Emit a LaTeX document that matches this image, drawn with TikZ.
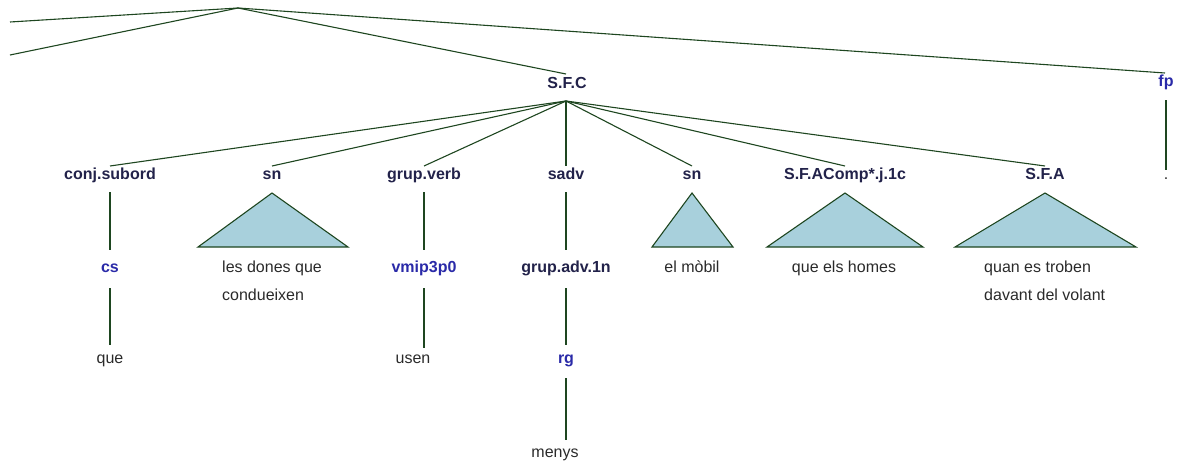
\documentclass[tikz,border=0pt]{standalone}
\usepackage{fontspec}
\setmainfont{Liberation Sans}
\definecolor{lab}{HTML}{22224A}
\definecolor{pos}{HTML}{2A2AA8}
\definecolor{leaf}{HTML}{2A2A2A}
\definecolor{edge}{HTML}{1E4620}
\definecolor{tri}{HTML}{A8D0DC}
\begin{document}
\begin{tikzpicture}[x=1pt,y=-1pt,
  every node/.style={inner sep=0pt,anchor=base},
  cat/.style={font=\fontsize{16}{18}\selectfont\bfseries,text=lab},
  postag/.style={font=\fontsize{16}{18}\selectfont\bfseries,text=pos},
  word/.style={font=\fontsize{16}{28}\selectfont,text=leaf},
  edgeline/.style={draw=edge,line width=1.1pt},
  triangle/.style={draw=edge,fill=tri,line width=1.1pt,line join=miter}]
\useasboundingbox (0,0) rectangle (1179,463);
% top level
\coordinate (root) at (238,8);
\coordinate (offA) at (10,22);
\coordinate (offB) at (10,55);
\node[cat] (sfc) at (567,88) {S.F.C};
\node[postag] (fp) at (1166,86) {fp};
\coordinate (sfcT) at (566,74);
\coordinate (fpT) at (1165,73);
\coordinate (sfcB) at (566,101);
\draw[edgeline] (root) -- (offA);
\draw[edgeline] (root) -- (offB);
\draw[edgeline] (root) -- (sfcT);
\draw[edgeline] (root) -- (fpT);
% children of S.F.C
\node[cat] (conj) at (110,179) {conj.subord};
\node[cat] (sn1) at (272,179) {sn};
\node[cat] (gv) at (424,179) {grup.verb};
\node[cat] (sadv) at (566,179) {sadv};
\node[cat] (sn2) at (692,179) {sn};
\node[cat] (sfacomp) at (845,179) {S.F.AComp*.j.1c};
\node[cat] (sfa) at (1045,179) {S.F.A};
\coordinate (conjT) at (110,166);
\coordinate (sn1T) at (272,166);
\coordinate (gvT) at (424,166);
\coordinate (sadvT) at (566,166);
\coordinate (sn2T) at (692,166);
\coordinate (sfacompT) at (845,166);
\coordinate (sfaT) at (1045,166);
\foreach \c in {conjT,sn1T,gvT,sadvT,sn2T,sfacompT,sfaT}
  \draw[edgeline] (sfcB) -- (\c);
% fp child
\node[word] (dot) at (1166,179) {.};
\coordinate (fpB) at (1166,100);
\coordinate (dotT) at (1166,170);
\draw[edgeline] (fpB) -- (dotT);
% triangles
\draw[triangle] (272,193) coordinate (t1a) -- (348,247) -- (198,247) -- cycle;
\draw[triangle] (692,193) coordinate (t2a) -- (733,247) -- (652,247) -- cycle;
\draw[triangle] (845,193) coordinate (t3a) -- (923,247) -- (767,247) -- cycle;
\draw[triangle] (1045,193) coordinate (t4a) -- (1136,247) -- (955,247) -- cycle;
\node[word,align=left,anchor=base west] (w1) at (222,300) {les dones que\\condueixen};
\node[word] (w2) at (692,272) {el mòbil};
\node[word] (w3) at (844,272) {que els homes};
\node[word,align=left,anchor=base west] (w4) at (984,300) {quan es troben\\davant del volant};
% conj.subord branch
\coordinate (conjB) at (110,192);
\node[postag] (cs) at (110,272) {cs};
\coordinate (csT) at (110,250);
\coordinate (csB) at (110,288);
\node[word] (que) at (110,363) {que};
\coordinate (queT) at (110,345);
\draw[edgeline] (conjB) -- (csT);
\draw[edgeline] (csB) -- (queT);
% grup.verb branch
\coordinate (gvB) at (424,192);
\node[postag] (vm) at (424,272) {vmip3p0};
\coordinate (vmT) at (424,250);
\coordinate (vmB) at (424,288);
\node[word] (usen) at (413,363) {usen};
\coordinate (usenT) at (424,348);
\draw[edgeline] (gvB) -- (vmT);
\draw[edgeline] (vmB) -- (usenT);
% sadv branch
\coordinate (sadvB) at (566,192);
\node[cat] (gadv) at (566,272) {grup.adv.1n};
\coordinate (gadvT) at (566,250);
\coordinate (gadvB) at (566,288);
\node[postag] (rg) at (566,363) {rg};
\coordinate (rgT) at (566,345);
\coordinate (rgB) at (566,378);
\node[word] (menys) at (555,457) {menys};
\coordinate (menysT) at (566,440);
\draw[edgeline] (sadvB) -- (gadvT);
\draw[edgeline] (gadvB) -- (rgT);
\draw[edgeline] (rgB) -- (menysT);
\end{tikzpicture}
\end{document}
